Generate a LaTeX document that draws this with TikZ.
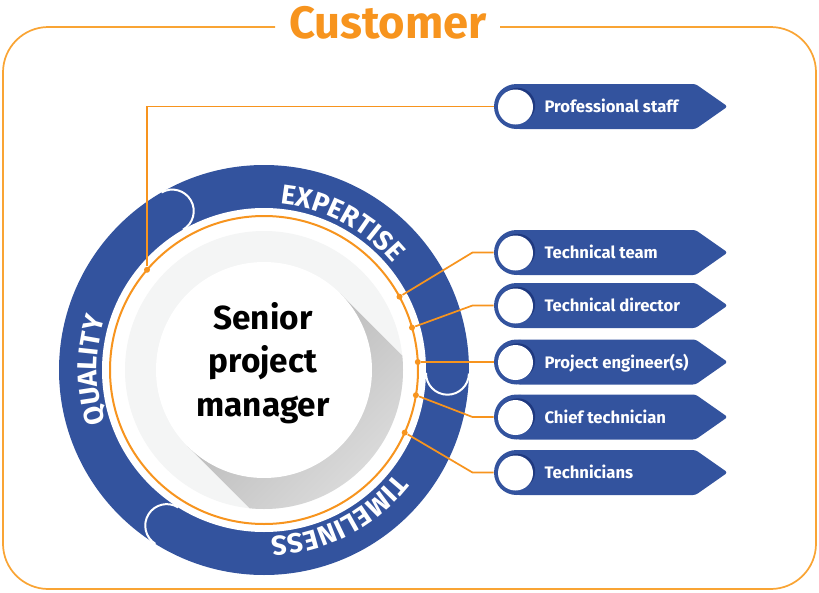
\documentclass[tikz,border=0pt]{standalone}
\usepackage{fontspec}
\setmainfont{Fira Sans}
\usetikzlibrary{shapes.symbols,decorations.text}

\tikzset{every picture/.style={line width=0.75pt}}
\tikzset{
  orangeline/.style={color={rgb, 255:red, 247; green, 148; blue, 30 }, draw opacity=1, line width=1.5},
  frameline/.style={color={rgb, 255:red, 249; green, 164; blue, 52 }, draw opacity=1, line width=1.3},
  ringfill/.style={fill={rgb, 255:red, 51; green, 83; blue, 158 }, fill opacity=1},
  capline/.style={draw=white, line width=1.5},
  ringtext/.style={decorate, decoration={text along path, text align=center,
      text={|\fontsize{20.5}{20.5}\selectfont\bfseries\color{white}|#1}}},
  joint/.style={circle, fill={rgb, 255:red, 247; green, 148; blue, 30 }, inner sep=0pt, minimum size=4.5pt},
  connector/.style={orangeline, line width=1.3},
  tagbody/.style={signal, signal to=east, signal pointer angle=70, ringfill, rounded corners=2pt,
      minimum width=158pt, minimum height=33.75pt, inner sep=0pt, anchor=west},
  tagball/.style={circle, ringfill, minimum size=33.75pt, inner sep=0pt,
      path picture={
        \fill[fill={rgb, 255:red, 31; green, 57; blue, 128 }] ([shift={(1.2,1.2)}]path picture bounding box.center) circle (17.5);
        \fill[white] ([shift={(-1,-0.5)}]path picture bounding box.center) circle (17.5);
      }},
  tagtext/.style={anchor=base west, inner sep=0pt, text=white, font=\fontsize{12.5}{15}\selectfont\bfseries},
}

\begin{document}
\begin{tikzpicture}[x=0.75pt,y=0.75pt,yscale=-1,xscale=1]
\useasboundingbox (0,0) rectangle (819,593);

%Shape: Rounded Rect (open at the title)
\draw [frameline, rounded corners=34pt] (500,27) -- (816,27) -- (816,589) -- (3,589) -- (3,27) -- (275,27) ;
% Text Node
\node [anchor=base, inner sep=0pt, text={rgb, 255:red, 247; green, 148; blue, 30 }, font=\fontsize{34}{34}\selectfont\bfseries] (title) at (388,38) {Customer};

\begin{scope}[shift={(264,370)}, yscale=-1]
%Shape: Circle (ring)
\fill [ringfill] (0,0) circle (205) ;
\fill [white] (0,0) circle (162) ;
%Shape: Arc (segment ends)
\draw [capline] (120:205) arc[start angle=120, end angle=-60, radius=21.5] ;
\draw [capline] (-1:205) arc[start angle=-1, end angle=-181, radius=21.5] ;
\draw [capline] (238:205) arc[start angle=238, end angle=58, radius=21.5] ;
% Ring labels
\path [ringtext=EXPERTISE] (112:167) arc[start angle=112, end angle=12, radius=167] ;
\path [ringtext=TIMELINESS] (-13:167) arc[start angle=-13, end angle=-113, radius=167] ;
\path [ringtext=QUALITY] (230:167) arc[start angle=230, end angle=130, radius=167] ;
%Shape: Circle (grey disc and long shadow)
\fill [fill={rgb, 255:red, 244; green, 245; blue, 245 }] (0,0) circle (139) ;
\begin{scope}
\clip (0,0) circle (139) ;
\shade [left color=black!30, right color=black!6, shading angle=45] (45:108) -- ++(-45:200) -- ++(225:216) -- ++(135:200) -- cycle ;
\end{scope}
\fill [white] (0,0) circle (108) ;
%Shape: Circle (orange)
\draw [orangeline] (0,0) circle (154) ;
\end{scope}

% Text Node
\node [align=center, inner sep=0pt, font=\fontsize{25}{32.5}\selectfont\bfseries] (manager) at (263,363) {Senior\\project\\manager};

% Tags
\node [tagbody] (staff) at (516.5,106.5) {};
\node [tagball] (staff-ball) at (516.5,106.5) {};
\node [tagtext] (staff-txt) at (544,112.5) {Professional staff};

\node [tagbody] (team) at (516.5,252.5) {};
\node [tagball] (team-ball) at (516.5,252.5) {};
\node [tagtext] (team-txt) at (544,258.5) {Technical team};

\node [tagbody] (director) at (516.5,305.5) {};
\node [tagball] (director-ball) at (516.5,305.5) {};
\node [tagtext] (director-txt) at (544,311.5) {Technical director};

\node [tagbody] (engineer) at (516.5,362) {};
\node [tagball] (engineer-ball) at (516.5,362) {};
\node [tagtext] (engineer-txt) at (544,368) {Project engineer(s)};

\node [tagbody] (chief) at (516.5,417) {};
\node [tagball] (chief-ball) at (516.5,417) {};
\node [tagtext] (chief-txt) at (544,423) {Chief technician};

\node [tagbody] (techs) at (516.5,472.5) {};
\node [tagball] (techs-ball) at (516.5,472.5) {};
\node [tagtext] (techs-txt) at (544,478.5) {Technicians};

% Joints on the orange circle
\node [joint] (d-staff) at (147,269.8) {};
\node [joint] (d-team) at (399.5,296.7) {};
\node [joint] (d-director) at (412,327.6) {};
\node [joint] (d-engineer) at (417.8,362) {};
\node [joint] (d-chief) at (415.9,395.2) {};
\node [joint] (d-techs) at (404.7,432.6) {};

%Straight Lines
\draw [connector] (d-staff) |- (staff-ball.west) ;
\draw [connector] (d-team) -- ([xshift=-15.75pt]team-ball.west) -- (team-ball.west) ;
\draw [connector] (d-director) -- ([xshift=-15.75pt]director-ball.west) -- (director-ball.west) ;
\draw [connector] (d-engineer) -- (engineer-ball.west) ;
\draw [connector] (d-chief) -- ([xshift=-15.75pt]chief-ball.west) -- (chief-ball.west) ;
\draw [connector] (d-techs) -- ([xshift=-15.75pt]techs-ball.west) -- (techs-ball.west) ;

\end{tikzpicture}
\end{document}
